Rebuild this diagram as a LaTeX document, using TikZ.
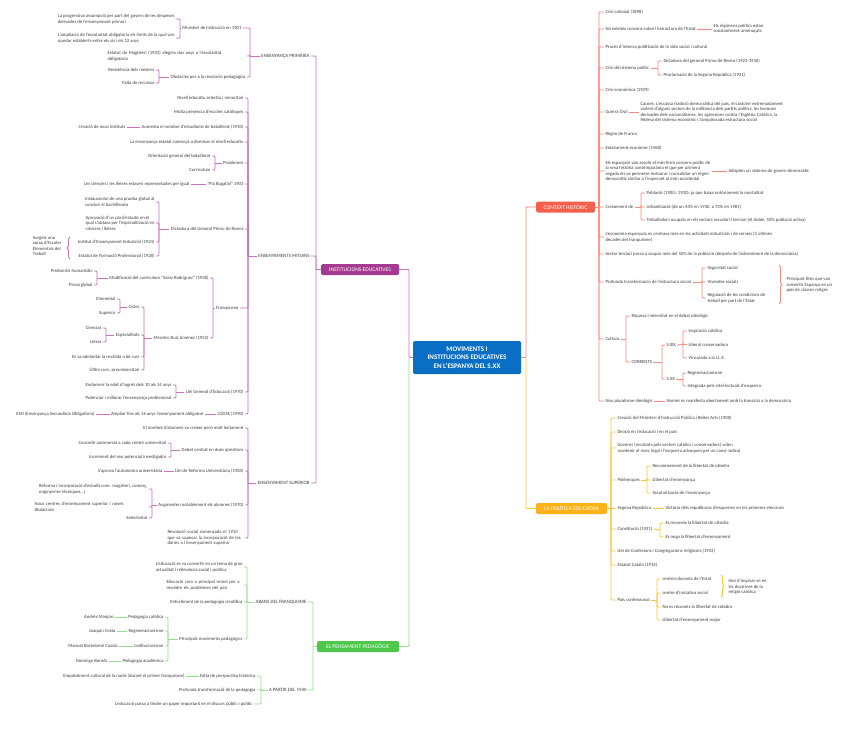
\documentclass[tikz,border=0pt]{standalone}
\usepackage{fontspec}
\setmainfont{Carlito}
\usetikzlibrary{decorations.pathreplacing}
\definecolor{txt}{HTML}{3C3C3C}
\definecolor{purL}{HTML}{CB72BE}
\definecolor{purB}{HTML}{A53B90}
\definecolor{redL}{HTML}{FA8A7B}
\definecolor{redB}{HTML}{F4604D}
\definecolor{yelL}{HTML}{FFC53A}
\definecolor{yelB}{HTML}{FDB218}
\definecolor{grnL}{HTML}{95DE8F}
\definecolor{grnB}{HTML}{4EC84B}
\definecolor{bluB}{HTML}{0A6FC4}
\newcommand\fs{\fontsize{4.7}{5.5}\selectfont}
\newcommand\fh{\fontsize{4.9}{5.6}\selectfont}
\newcommand\fb{\fontsize{5.6}{6.4}\selectfont}
\newcommand\ft{\fontsize{7}{8.3}\selectfont\bfseries}
\begin{document}
\begin{tikzpicture}[x=1pt,y=-1pt,
 tx/.style={font=\fs,text=txt,inner sep=1.5pt,outer sep=0pt},
 lt/.style={tx,anchor=east},
 rt/.style={tx,anchor=west},
 ml/.style={align=left},
 hl/.style={lt,font=\fh},
 box/.style={rounded corners=1.5pt,text=white,font=\fb,minimum height=11pt,inner sep=1pt,outer sep=0pt},
 cbox/.style={rounded corners=1.5pt,fill=bluB,text=white,font=\ft,align=center,minimum width=108pt,minimum height=33pt,inner sep=1pt,outer sep=0pt},
 lp/.style={draw=purL,line width=0.9pt,rounded corners=1pt},
 lr/.style={draw=redL,line width=0.9pt,rounded corners=1pt},
 ly/.style={draw=yelL,line width=0.9pt,rounded corners=1pt},
 lg/.style={draw=grnL,line width=0.9pt,rounded corners=1pt},
 brc/.style={decorate,decoration={brace,amplitude=3pt}},
]
\useasboundingbox (0,0) rectangle (848,731);
\fill[white] (0,0) rectangle (848,731);

% ---------------- central node and main boxes
\node[cbox] (center) at (467,357.5) {MOVIMENTS I\\INSTITUCIONS EDUCATIVES\\EN L'ESPANYA DEL S.XX};
\node[box,fill=purB,minimum width=78pt] (inst) at (360,269.5) {INSTITUCIONS EDUCATIVES};
\node[box,fill=grnB,minimum width=82pt] (pens) at (358,646.5) {EL PENSAMENT PEDAGÒGIC};
\node[box,fill=redB,minimum width=59pt] (ctx) at (565.5,207) {CONTEXT HISTÒRIC};
\node[box,fill=yelB,minimum width=71pt] (pol) at (571.5,508.5) {LA POLÍTICA EDUCATIVA};
\coordinate (hubL) at (409,357.5);
\coordinate (hubR) at (526,357.5);
\draw[lp] (center.west) -- (hubL) |- (inst.east);
\draw[lg] (hubL) |- (pens.east);
\draw[lr] (center.east) -- (hubR) |- (ctx.west);
\draw[ly] (hubR) |- (pol.west);

% ================= INSTITUCIONS EDUCATIVES
\coordinate (bI) at (316,269.5);
\node[hl] (prim) at (311,56) {ENSENYANÇA PRIMÀRIA};
\node[hl] (mit) at (311,256) {ENSENYAMENTS MITJANS};
\node[hl] (sup) at (311,483) {ENSENYAMENT SUPERIOR};
\draw[lp] (inst.west) -- (bI);
\foreach \cc in {prim,mit,sup} \draw[lp] (bI) |- (\cc.east);

% ---- primaria
\coordinate (bP) at (250,56);
\node[lt] (p1) at (243,28) {Ministeri de Instrucció en 1901};
\node[lt,ml,text width=138pt] (p2) at (247,56) {Estatut de Magisteri (1923) afegeix dos anys a l'escolaritat\\obligatòria};
\node[lt] (p3) at (247,77) {Obstacles per a la revolució pedagògica};
\draw[lp] (prim.west) -- (bP);
\foreach \cc in {p1,p2,p3} \draw[lp] (bP) |- (\cc.east);
\coordinate (bP1) at (180,28);
\node[lt,ml] (p11) at (176,19) {La progressiva assumpció per part del govern de les despeses\\derivades de l'ensenyament primari};
\node[lt,ml] (p12) at (176,38) {L'ampliació de l'escolaritat obligatòria els límits de la qual van\\quedar establerts entre els sis i els 12 anys};
\draw[lp] (p1.west) -- (bP1);
\foreach \cc in {p11,p12} \draw[lp] (bP1) |- (\cc.east);
\coordinate (bP3) at (159,77);
\node[lt] (p31) at (156,70) {Resistència dels mestres};
\node[lt] (p32) at (156,83) {Falta de recursos};
\draw[lp] (p3.west) -- (bP3);
\foreach \cc in {p31,p32} \draw[lp] (bP3) |- (\cc.east);

% ---- mitjans
\coordinate (bM) at (248,256);
\node[lt] (m1) at (245,98) {Nivell educatiu selectiu i minoritari};
\node[lt] (m2) at (245,112) {Molta presència d'escoles catòliques};
\node[lt] (m3) at (245,127) {Aumenta el nombre d'estudiants de batxillerat (1910)};
\node[lt] (m4) at (245,142) {La ensenyança estatal començà a dominar el nivell educatiu};
\node[lt] (m5) at (245,163) {Problemes};
\node[lt] (m6) at (245,184) {"Pla Bugallal" 1903};
\node[lt] (m7) at (245,229) {Dictadura del General Primo de Rivera};
\node[lt] (m8) at (240,308) {Franquisme};
\node[lt] (m9) at (245,392) {Llei General d'Educació (1970)};
\node[lt] (m10) at (245,414) {LOGSE (1990)};
\draw[lp] (mit.west) -- (bM);
\foreach \cc in {m1,m2,m3,m4,m5,m6,m7,m8,m9,m10} \draw[lp] (bM) |- (\cc.east);
\node[lt] (m31) at (127,127) {Creació de nous instituts};
\draw[lp] (m3.west) -- (m31.east);
\coordinate (bM5) at (215,163);
\node[lt] (m51) at (212,156) {Orientació general del batxillerat};
\node[lt] (m52) at (212,170) {Currículum};
\draw[lp] (m5.west) -- (bM5);
\foreach \cc in {m51,m52} \draw[lp] (bM5) |- (\cc.east);
\node[lt] (m61) at (191,184) {Les ciències i les lletres estaven representades per igual};
\draw[lp] (m6.west) -- (m61.east);
\coordinate (bM7) at (159,229);
\node[lt,ml] (m71) at (156,202) {Instauración de una prueba global al\\concluir el bachillerato};
\node[lt,ml] (m72) at (156,223) {Aprovació d'un pla d'estudis en el\\qual s'obtava per l'especialització en\\ciències i lletres};
\node[lt] (m73) at (156,242) {Institut d'Ensenyament Industrial (1924)};
\node[lt] (m74) at (156,256) {Estatut de Formació Professional (1928)};
\draw[lp] (m7.west) -- (bM7);
\foreach \cc in {m71,m72,m73,m74} \draw[lp] (bM7) |- (\cc.east);
\node[lt,ml] (sorg) at (63,246) {Sorgeix una\\xarxa d'Escoles\\Elementals del\\Treball};
\draw[lp,brc,rounded corners=0pt] (70,259) -- (70,237);
\coordinate (bM8) at (213,308);
\node[lt] (m81) at (210,278) {Modificació del curriculum "Sainz Rodríguez" (1938)};
\node[lt] (m82) at (210,338) {Ministro Ruiz Jiménez (1953)};
\draw[lp] (m8.west) -- (bM8);
\foreach \cc in {m81,m82} \draw[lp] (bM8) |- (\cc.east);
\coordinate (bM81) at (97,278);
\node[lt] (m811) at (94,271) {Predomini humanístic};
\node[lt] (m812) at (94,285) {Prova global};
\draw[lp] (m81.west) -- (bM81);
\foreach \cc in {m811,m812} \draw[lp] (bM81) |- (\cc.east);
\coordinate (bM82) at (144,338);
\node[lt] (m821) at (141,307) {Cicles};
\node[lt] (m822) at (141,335) {Especialitats};
\node[lt] (m823) at (141,357) {Es va adelantar la reválida a 6è curs};
\node[lt] (m824) at (141,370) {Últim curs: preuniversitari};
\draw[lp] (m82.west) -- (bM82);
\foreach \cc in {m821,m822,m823,m824} \draw[lp] (bM82) |- (\cc.east);
\coordinate (bC1) at (120,307);
\node[lt] (e1) at (117,299) {Elemental};
\node[lt] (e2) at (117,313) {Superior};
\draw[lp] (m821.west) -- (bC1);
\foreach \cc in {e1,e2} \draw[lp] (bC1) |- (\cc.east);
\coordinate (bE1) at (106,335);
\node[lt] (f1) at (103,328) {Ciencias};
\node[lt] (f2) at (103,342) {Letras};
\draw[lp] (m822.west) -- (bE1);
\foreach \cc in {f1,f2} \draw[lp] (bE1) |- (\cc.east);
\coordinate (bM9) at (176,392);
\node[lt] (m91) at (173,385) {Endarrerir la edat d'ingrés dels 10 als 14 anys};
\node[lt] (m92) at (173,398) {Potenciar i millorar l'ensenyança professional};
\draw[lp] (m9.west) -- (bM9);
\foreach \cc in {m91,m92} \draw[lp] (bM9) |- (\cc.east);
\node[lt] (m101) at (205,414) {Ampliar fins als 16 anys l'ensenyament obligatori};
\node[lt] (m102) at (96,414) {ESO (Ensenyança Secundària Obligatòria)};
\draw[lp] (m10.west) -- (m101.east);
\draw[lp] (m101.west) -- (m102.east);

% ---- superior
\coordinate (bS) at (248,483);
\node[lt] (s1) at (245,428) {El nombre d'alumnes va creixer però molt lentament};
\node[lt] (s2) at (245,450) {Debat centrat en dues qüestions};
\node[lt] (s3) at (245,471) {Llei de Reforma Universitària (1983)};
\node[lt] (s4) at (245,505) {Augmenten notablement els alumnes (1970)};
\node[lt,ml,text width=76pt] (s5) at (245,538) {Revolució social començada el 1910\\que va suposar la incorporació de les\\dones a l'ensenyament superior};
\draw[lp] (sup.west) -- (bS);
\foreach \cc in {s1,s2,s3,s4,s5} \draw[lp] (bS) |- (\cc.east);
\coordinate (bS2) at (171,450);
\node[lt] (s21) at (168,443) {Concedir autonomia a cada centre universitari};
\node[lt] (s22) at (168,457) {Increment del seu potencial investigador};
\draw[lp] (s2.west) -- (bS2);
\foreach \cc in {s21,s22} \draw[lp] (bS2) |- (\cc.east);
\node[lt] (s31) at (164,471) {S'aprova l'autonomia universitària};
\draw[lp] (s3.west) -- (s31.east);
\coordinate (bS4) at (152,505);
\node[lt,ml] (s41) at (149,489) {Reforma i incorporació d'estudis com: magisteri, comerç,\\enginyeries tècniques...)};
\node[lt,ml,text width=113pt] (s42) at (149,507) {Nous centres d'ensenyament superior i noves\\titulacions};
\node[lt] (s43) at (149,518) {Selectivitat};
\draw[lp] (s4.west) -- (bS4);
\foreach \cc in {s41,s42,s43} \draw[lp] (bS4) |- (\cc.east);

% ================= EL PENSAMENT PEDAGÒGIC
\coordinate (bG) at (313,646.5);
\node[hl] (ab) at (308,602) {ABANS DEL FRANQUISME};
\node[hl] (ap) at (308,690) {A PARTIR DEL 1940};
\draw[lg] (pens.west) -- (bG);
\foreach \cc in {ab,ap} \draw[lg] (bG) |- (\cc.east);
\coordinate (bAb) at (247,602);
\node[lt,ml] (a1) at (244,567) {L'educació es va convertir en un tema de gran\\actualitat i rellevància social i política};
\node[lt,ml,text width=76pt] (a2) at (244,585) {Educació com a principal remei per a\\resoldre els problemes del país};
\node[lt] (a3) at (244,602) {Enfortiment de la pedagogia científica};
\node[lt] (a4) at (244,639) {Principals moviments pedagògics};
\draw[lg] (ab.west) -- (bAb);
\foreach \cc in {a1,a2,a3,a4} \draw[lg] (bAb) |- (\cc.east);
\coordinate (bA4) at (168,639);
\node[lt] (a41) at (165,617) {Pedagogia catòlica};
\node[lt] (a42) at (165,631) {Regeneracionisme};
\node[lt] (a43) at (165,646) {Institucionisme};
\node[lt] (a44) at (165,661) {Pedagogia acadèmica};
\draw[lg] (a4.west) -- (bA4);
\foreach \cc in {a41,a42,a43,a44} \draw[lg] (bA4) |- (\cc.east);
\node[lt] (n1) at (115,617) {Andrés Manjón};
\node[lt] (n2) at (117,631) {Joaquin Costa};
\node[lt] (n3) at (119,646) {Manuel Bartolomé Cossío};
\node[lt] (n4) at (109,661) {Domingo Barnés};
\draw[lg] (a41.west) -- (n1.east);
\draw[lg] (a42.west) -- (n2.east);
\draw[lg] (a43.west) -- (n3.east);
\draw[lg] (a44.west) -- (n4.east);
\coordinate (bAp) at (261,690);
\node[lt] (b1) at (257,676) {Falta de perspectiva històrica};
\node[lt] (b2) at (257,690) {Profunda transformació de la pedagogia};
\node[lt] (b3) at (254,704) {L'educació passa a tindre un paper important en el discurs públic i polític};
\draw[lg] (ap.west) -- (bAp);
\foreach \cc in {b1,b2,b3} \draw[lg] (bAp) |- (\cc.east);
\node[lt] (b11) at (186,676) {Empobriment cultural de la nació (durant el primer franquisme)};
\draw[lg] (b1.west) -- (b11.east);

% ================= CONTEXT HISTÒRIC
\coordinate (bC) at (599,207);
\node[rt] (c1) at (604,12) {Crisi colonial (1898)};
\node[rt] (c2) at (604,29) {No existeix consens sobre l'estructura de l'Estat};
\node[rt] (c3) at (604,47) {Procés d'intensa politització de la vida social i cultural};
\node[rt] (c4) at (604,68) {Crisi del sistema polític};
\node[rt] (c5) at (604,90) {Crisi econòmica (1929)};
\node[rt] (c6) at (604,112) {Guerra Civil};
\node[rt] (c7) at (604,134) {Règim de Franco};
\node[rt] (c8) at (604,148) {Enlairament econòmic (1960)};
\node[rt,ml] (c9) at (604,171) {Els espanyols van assolir el més ferm consens polític de\\la seva història contemporània el que per primera\\vegada els va permetre instaurar i consolidar un règim\\democràtic similar a l'imperant al món occidental};
\node[rt] (c10) at (604,207) {Creixement de};
\node[rt,ml] (c11) at (604,237) {L'economia espanyola es centrava més en les activitats industrials i de serveis (2 últimes\\dècades del franquisme)};
\node[rt] (c12) at (604,254) {Sector terciari passa a ocupar més del 50\% de la població (després de l'adveniment de la democràcia)};
\node[rt] (c13) at (604,282) {Profunda transformació de l'estructura social};
\node[rt] (c14) at (604,339) {Cultura};
\node[rt] (c15) at (604,401) {Nou pluralisme ideològic};
\draw[lr] (ctx.east) -- (bC);
\foreach \cc in {c1,c2,c3,c4,c5,c6,c7,c8,c9,c10,c11,c12,c13,c14,c15} \draw[lr] (bC) |- (\cc.west);
\node[rt,ml] (c21) at (712,29) {Els règimens polítics estan\\constantment amenaçats};
\draw[lr] (c2.east) -- (c21.west);
\coordinate (bC4) at (658,68);
\node[rt] (c41) at (662,61) {Dictadura del general Primo de Rivera (1923-1930)};
\node[rt] (c42) at (662,75) {Proclamació de la Segona República (1931)};
\draw[lr] (c4.east) -- (bC4);
\foreach \cc in {c41,c42} \draw[lr] (bC4) |- (\cc.west);
\node[rt,ml] (c61) at (639,112) {Causes: L'escassa tradició democràtica del país, el caràcter extremadament\\violent d'alguns sectors de la militància dels partits polítics, les tensions\\derivades dels nacionalismes, les agressions contra l'Església Catòlica, la\\feblesa del sistema econòmic i l'anquilosada estructura social};
\draw[lr] (c6.east) -- (c61.west);
\node[rt] (c91) at (727,171) {Adopten un sistema de govern democràtic};
\draw[lr] (c9.east) -- (c91.west);
\coordinate (bC10) at (641,207);
\node[rt] (d1) at (645,193) {Població (1900 i 1930), ja que baixa notòriament la mortalitat};
\node[rt] (d2) at (645,207) {Urbanització (de un 43\% en 1930, a 73\% en 1981)};
\node[rt] (d3) at (645,220) {Treballadors ocupats en els sectors secudari i terciari (el doble, 50\% població activa)};
\draw[lr] (c10.east) -- (bC10);
\foreach \cc in {d1,d2,d3} \draw[lr] (bC10) |- (\cc.west);
\coordinate (bC13) at (702,282);
\node[rt] (g1) at (706,268) {Seguretat social};
\node[rt] (g2) at (706,282) {Vivendes socials};
\node[rt,ml] (g3) at (706,298) {Regulació de les condicions de\\treball per part de l'Estat};
\draw[lr] (c13.east) -- (bC13);
\foreach \cc in {g1,g2,g3} \draw[lr] (bC13) |- (\cc.west);
\draw[lr,brc,rounded corners=0pt] (779,265) -- (779,304);
\node[rt,ml] (g4) at (785,285) {Principals fites que van\\convertir Espanya en un\\país de classes mitges};
\coordinate (bC14) at (626,339);
\node[rt] (h1) at (630,316) {Riquesa i intensitat en el debat ideològic};
\node[rt] (h2) at (630,362) {CORRENTS};
\draw[lr] (c14.east) -- (bC14);
\foreach \cc in {h1,h2} \draw[lr] (bC14) |- (\cc.west);
\coordinate (bH2) at (662,362);
\node[rt] (k1) at (665,345) {S.XIX};
\node[rt] (k2) at (665,379) {S.XX};
\draw[lr] (h2.east) -- (bH2);
\foreach \cc in {k1,k2} \draw[lr] (bH2) |- (\cc.west);
\coordinate (bK1) at (683,344.5);
\node[rt] (k11) at (687,331) {Inspiració catòlica};
\node[rt] (k12) at (687,344.5) {Liberal conservadora};
\node[rt] (k13) at (687,358) {Vinculada a la I.L.E.};
\draw[lr] (k1.east) -- (bK1);
\foreach \cc in {k11,k12,k13} \draw[lr] (bK1) |- (\cc.west);
\coordinate (bK2) at (683,379);
\node[rt] (k21) at (686,373) {Regeneracionisme};
\node[rt] (k22) at (686,386) {Integrada pels intel·lectuals d'esquerra};
\draw[lr] (k2.east) -- (bK2);
\foreach \cc in {k21,k22} \draw[lr] (bK2) |- (\cc.west);
\node[rt] (c151) at (665,401) {Només es manifesta obertament amb la transició a la democràcia};
\draw[lr] (c15.east) -- (c151.west);

% ================= LA POLÍTICA EDUCATIVA
\coordinate (bY) at (611,508.5);
\node[rt] (y1) at (616,418) {Creació del Ministeri d'Instrucció Pública i Belles Arts (1900)};
\node[rt] (y2) at (616,432) {Divisió en l'educació i en el país};
\node[rt,ml] (y3) at (616,448) {Governs (recolzats pels sectors catòlics i conservadors) volen\\mantenir el marc legal i l'esquerra advoquen per un canvi radical};
\node[rt] (y4) at (616,480) {Polèmiques};
\node[rt] (y5) at (616,508.5) {Segona República};
\node[rt] (y6) at (616,529) {Constitució (1931)};
\node[rt] (y7) at (616,551) {Llei de Confesions i Congregacions religioses (1933)};
\node[rt] (y8) at (616,565) {Estatut Català (1932)};
\node[rt] (y9) at (616,600) {País confessional};
\draw[ly] (pol.east) -- (bY);
\foreach \cc in {y1,y2,y3,y4,y5,y6,y7,y8,y9} \draw[ly] (bY) |- (\cc.west);
\coordinate (bY4) at (647,480);
\node[rt] (z1) at (651,466) {Reconeixement de la llibertat de càtedra};
\node[rt] (z2) at (651,480) {Llibertat d'ensenyança};
\node[rt] (z3) at (651,493) {Secularització de l'ensenyança};
\draw[ly] (y4.east) -- (bY4);
\foreach \cc in {z1,z2,z3} \draw[ly] (bY4) |- (\cc.west);
\node[rt] (y51) at (664,508.5) {Victòria dels republicans d'esquerres en les primeres eleccions};
\draw[ly] (y5.east) -- (y51.west);
\coordinate (bY6) at (660,530);
\node[rt] (w1) at (664,523) {Es reconeix la llibertat de càtedra};
\node[rt] (w2) at (664,537) {Es nega la llibertat d'ensenyament};
\draw[ly] (y6.east) -- (bY6);
\foreach \cc in {w1,w2} \draw[ly] (bY6) |- (\cc.west);
\coordinate (bY9) at (657,600);
\node[rt] (v1) at (661,579) {centres docents de l'Estat};
\node[rt] (v2) at (661,593) {centre d'iniciativa social};
\node[rt] (v3) at (661,607) {No es reconeix la llibertat de càtedra};
\node[rt] (v4) at (661,620) {Llibertat d'ensenyament major};
\draw[ly] (y9.east) -- (bY9);
\foreach \cc in {v1,v2,v3,v4} \draw[ly] (bY9) |- (\cc.west);
\draw[ly,brc,rounded corners=0pt] (721,575) -- (721,597);
\node[rt,ml] (v5) at (727,587) {Han d'inspirar-se en\\les doctrines de la\\religió catòlica};
\end{tikzpicture}
\end{document}
